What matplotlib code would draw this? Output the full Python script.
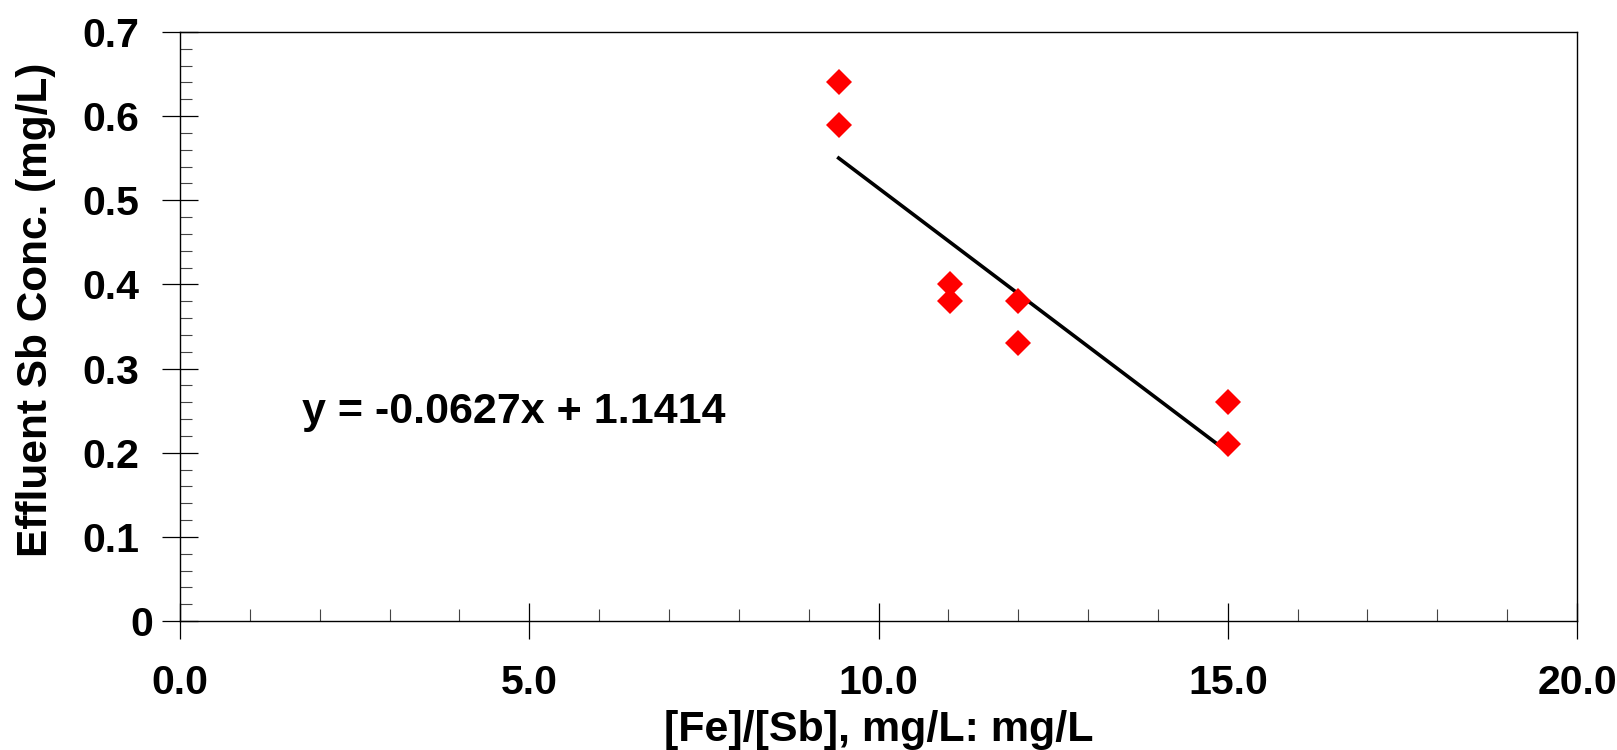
import matplotlib
matplotlib.use('Agg')
import matplotlib.pyplot as plt
import matplotlib.transforms as mtrans
import numpy as np
from matplotlib.ticker import MultipleLocator, FixedLocator, FixedFormatter

# Donnees
fe_sb_ratio = [9.43, 9.43, 11.02, 11.02, 12.0, 12.0, 15.0, 15.0]
effluent_sb = [0.64, 0.59, 0.40, 0.38, 0.38, 0.33, 0.26, 0.21]
slope, intercept = -0.0627, 1.1414
x_ticks = [0, 5, 10, 15, 20]
x_labels = ["0.0", "5.0", "10.0", "15.0", "20.0"]
y_ticks = [0, 0.1, 0.2, 0.3, 0.4, 0.5, 0.6, 0.7]
y_labels = ["0", "0.1", "0.2", "0.3", "0.4", "0.5", "0.6", "0.7"]

FONT = "Liberation Sans"
RED = (1.0, 0.0, 0.0)

fig = plt.figure(figsize=(16.17, 7.5), dpi=100, facecolor='white')
ax = fig.add_axes([180/1617, 1 - 621/750, 1397/1617, 589/750])

ax.plot(fe_sb_ratio, effluent_sb, linestyle='none', marker='D',
        markersize=12.8, color=RED, markeredgewidth=0, zorder=3)

# Droite de tendance
xs = np.array([min(fe_sb_ratio), max(fe_sb_ratio)])
ax.plot(xs, slope * xs + intercept, color='black', linewidth=2.6, zorder=2)

ax.text(1.75, 0.248, f"y = {slope}x + {intercept}", fontsize=31,
        fontweight='bold', family=FONT, ha='left', va='center')

ax.set_xlim(0, 20)
ax.set_ylim(0, 0.7)
ax.xaxis.set_major_locator(FixedLocator(x_ticks))
ax.xaxis.set_major_formatter(FixedFormatter(x_labels))
ax.xaxis.set_minor_locator(MultipleLocator(1))
ax.yaxis.set_major_locator(FixedLocator(y_ticks))
ax.yaxis.set_major_formatter(FixedFormatter(y_labels))
ax.yaxis.set_minor_locator(MultipleLocator(0.02))

for sp in ax.spines.values():
    sp.set_linewidth(1.0)
ax.tick_params(which='major', direction='inout', length=26, width=0.9,
               labelsize=29.5, top=False, right=False)
ax.tick_params(axis='x', which='major', pad=18)
ax.tick_params(axis='y', which='major', pad=16)
ax.tick_params(which='minor', direction='in', length=8.6, width=0.8,
               color='#444444', top=False, right=False)
for lbl in ax.get_xticklabels() + ax.get_yticklabels():
    lbl.set_fontweight('bold')
    lbl.set_family(FONT)

# le "0" de l'axe y est decale vers la droite
zero = ax.yaxis.get_major_ticks()[0].label1
zero.set_transform(zero.get_transform() +
                   mtrans.ScaledTranslation(13/100, 0, fig.dpi_scale_trans))

ax.set_xlabel("[Fe]/[Sb], mg/L: mg/L", fontsize=31, fontweight='bold', family=FONT)
ax.set_ylabel("Effluent Sb Conc. (mg/L)", fontsize=30.5, fontweight='bold', family=FONT)
ax.xaxis.set_label_coords(0.5, (621 - 710) / 589)
ax.yaxis.set_label_coords((56 - 180) / 1397, (621 - 310) / 589)

fig.savefig('out.png', dpi=100, facecolor='white')
